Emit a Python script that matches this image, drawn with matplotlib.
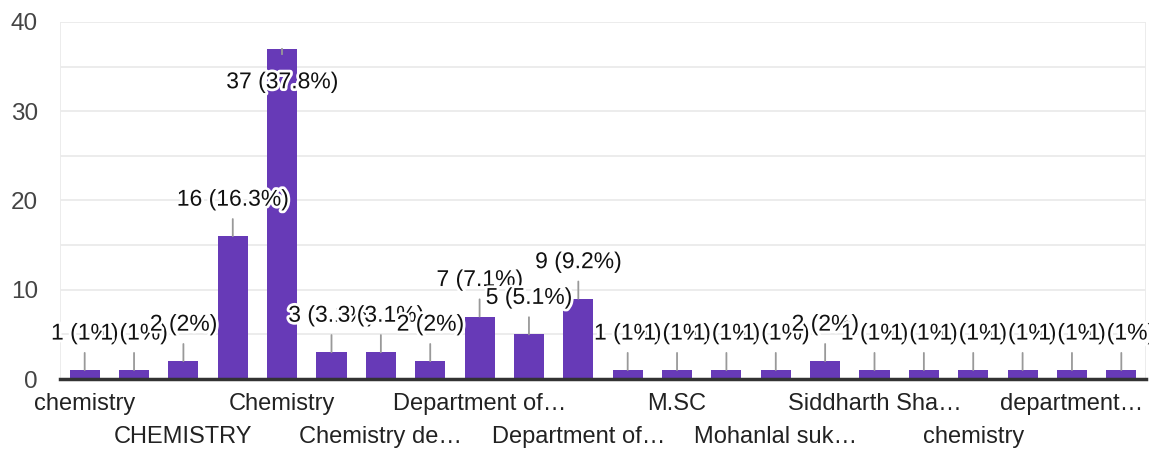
import matplotlib
matplotlib.use("Agg")
import matplotlib.pyplot as plt
import matplotlib.patheffects as pe
import numpy as np

plt.rcParams['font.family'] = ['Liberation Sans', 'DejaVu Sans']

# Data
tick_labels = ["chemistry", "", "CHEMISTRY", "", "Chemistry", "", "Chemistry de…", "",
               "Department of…", "", "Department of…", "", "M.SC", "", "Mohanlal suk…", "",
               "Siddharth Sha…", "", "chemistry", "", "department…", ""]
counts = [1, 1, 2, 16, 37, 3, 3, 2, 7, 5, 9, 1, 1, 1, 1, 2, 1, 1, 1, 1, 1, 1]
pct_labels = ["1%", "1%", "2%", "16.3%", "37.8%", "3.1%", "3.1%", "2%", "7.1%", "5.1%", "9.2%",
              "1%", "1%", "1%", "1%", "2%", "1%", "1%", "1%", "1%", "1%", "1%"]

W, H = 1149, 451
fig = plt.figure(figsize=(W / 100, H / 100), dpi=100)
ax = fig.add_axes([60 / W, 72 / H, 1086 / W, 357 / H])

x = np.arange(len(counts))
ax.bar(x, counts, width=0.61, color="#673ab7", zorder=2)
ax.set_xlim(-0.5, len(counts) - 0.5)
ax.set_ylim(0, 40)

# grid
for v in np.arange(5, 41, 5):
    ax.axhline(v, color="#ebebeb", lw=1.3, zorder=0)
for s in ["top", "right", "left"]:
    ax.spines[s].set_visible(False)
ax.axvline(-0.5, color="#ebebeb", lw=1.3, zorder=0)
ax.axvline(len(counts) - 0.5, color="#ebebeb", lw=1.3, zorder=0)
ax.spines["bottom"].set_color("#333333")
ax.spines["bottom"].set_linewidth(2.5)
ax.spines["bottom"].set_zorder(3)

ax.set_yticks([0, 10, 20, 30, 40])
ax.tick_params(axis="y", length=0, pad=16, labelsize=17.5, labelcolor="#444444")

even = [i for i in x if tick_labels[i]]
ax.set_xticks(even)
ax.set_xticklabels([tick_labels[i] for i in even], fontsize=17, color="#222222")
ax.tick_params(axis="x", length=0)
for k, t in enumerate(ax.xaxis.get_major_ticks()):
    t.set_pad(10 if k % 2 == 0 else 33.5)

# data labels
px = 72 / 100  # points per pixel
ytop_px = 357
for i, (c, p) in enumerate(zip(counts, pct_labels)):
    bar_px = c / 40 * ytop_px
    if bar_px + 45 > ytop_px:
        off = -33
        txt = ax.annotate(f"{c} ({p})", (i, c), xytext=(0, off * px), textcoords="offset points",
                          ha="center", va="center", fontsize=16.5, color="#111111", zorder=5)
        ax.plot([i, i], [c, c - 0.6], color="#999999", lw=1.3, zorder=4)
    else:
        off = 37
        txt = ax.annotate(f"{c} ({p})", (i, c), xytext=(0, off * px), textcoords="offset points",
                          ha="center", va="center", fontsize=16.5, color="#111111", zorder=5,
                          arrowprops=dict(arrowstyle="-", color="#999999", lw=1.3,
                                          shrinkA=4, shrinkB=0))
    txt.set_path_effects([pe.withStroke(linewidth=4, foreground="white")])

fig.savefig("out.png", dpi=100)
